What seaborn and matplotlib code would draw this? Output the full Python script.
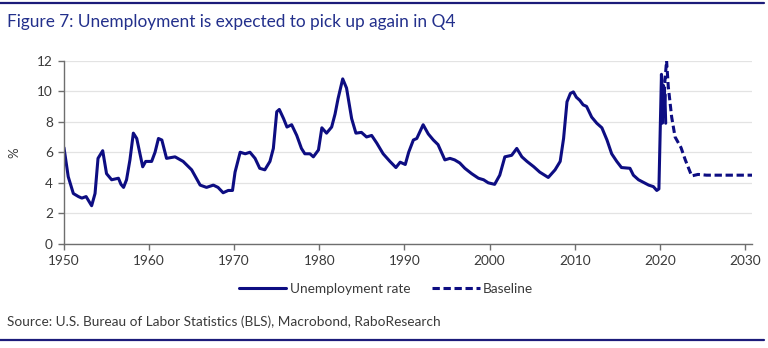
import matplotlib
matplotlib.use("Agg")
import matplotlib.pyplot as plt
import seaborn as sns
import pandas as pd

# US unemployment rate (%), observed
hist_years = [1950.0, 1950.5, 1951.1, 1951.7, 1952.1, 1952.6, 1953.25, 1953.65, 1954.0, 1954.55,
              1955.0, 1955.6, 1956.4, 1956.7, 1957.0, 1957.35, 1957.75, 1958.15, 1958.55, 1959.25,
              1959.6, 1960.3, 1960.7, 1961.1, 1961.5, 1962.05, 1963.05, 1964.0, 1965.0, 1966.0,
              1966.75, 1967.55, 1968.1, 1968.7, 1969.3, 1969.8, 1970.1, 1970.7, 1971.3, 1971.85,
              1972.45, 1973.0, 1973.6, 1974.2, 1974.6, 1975.0, 1975.3, 1975.8, 1976.2, 1976.75,
              1977.35, 1977.9, 1978.3, 1978.9, 1979.3, 1979.9, 1980.3, 1980.85, 1981.45, 1981.85,
              1982.2, 1982.75, 1983.2, 1983.8, 1984.3, 1984.95, 1985.55, 1986.15, 1986.75, 1987.5,
              1988.3, 1989.0, 1989.5, 1990.1, 1990.5, 1991.05, 1991.45, 1992.2, 1992.8, 1993.4,
              1993.95, 1994.75, 1995.35, 1995.9, 1996.5, 1997.1, 1997.9, 1998.7, 1999.3, 1999.85,
              2000.6, 2001.2, 2001.8, 2002.6, 2003.2, 2003.8, 2004.4, 2005.2, 2005.9, 2006.9,
              2007.7, 2008.3, 2008.7, 2009.1, 2009.5, 2009.85, 2010.2, 2010.6, 2011.0, 2011.4,
              2012.0, 2012.6, 2013.2, 2013.8, 2014.35, 2014.95, 2015.5, 2016.5, 2016.9, 2017.5,
              2018.3, 2018.7, 2019.25, 2019.65, 2019.9, 2020.2, 2020.3, 2020.4, 2020.5, 2020.6,
              2020.7]
hist_rate = [6.3, 4.4, 3.3, 3.1, 3.0, 3.1, 2.5, 3.3, 5.6, 6.1,
             4.6, 4.2, 4.3, 3.9, 3.7, 4.2, 5.5, 7.25, 6.9, 5.05,
             5.4, 5.4, 6.0, 6.9, 6.8, 5.6, 5.7, 5.4, 4.85, 3.85,
             3.7, 3.85, 3.7, 3.35, 3.5, 3.5, 4.7, 6.0, 5.9, 6.0,
             5.6, 4.95, 4.85, 5.4, 6.25, 8.65, 8.8, 8.2, 7.65, 7.8,
             7.1, 6.25, 5.9, 5.9, 5.7, 6.15, 7.6, 7.25, 7.65, 8.5,
             9.5, 10.8, 10.2, 8.2, 7.25, 7.3, 7.0, 7.1, 6.6, 5.9,
             5.4, 5.0, 5.35, 5.2, 6.0, 6.8, 6.9, 7.8, 7.2, 6.8,
             6.5, 5.5, 5.6, 5.5, 5.3, 4.95, 4.6, 4.3, 4.2, 4.0,
             3.9, 4.5, 5.7, 5.8, 6.25, 5.7, 5.4, 5.05, 4.7, 4.35,
             4.85, 5.4, 6.9, 9.3, 9.85, 9.95, 9.6, 9.4, 9.1, 9.0,
             8.3, 7.9, 7.6, 6.8, 5.9, 5.4, 5.0, 4.95, 4.5, 4.2,
             3.97, 3.85, 3.75, 3.5, 3.6, 11.1, 7.9, 10.4, 8.4, 9.8,
             7.9]

# Baseline forecast (%)
base_years = [2020.2, 2020.45, 2020.6, 2020.8, 2021.0, 2021.4, 2021.8, 2022.5, 2023.0, 2023.75,
              2024.5, 2025.5, 2027.0, 2029.0, 2030.9]
base_rate = [11.1, 8.3, 10.6, 12.0, 10.3, 8.3, 7.0, 6.3, 5.5, 4.45,
             4.55, 4.5, 4.5, 4.5, 4.5]

x_ticks = [1950, 1960, 1970, 1980, 1990, 2000, 2010, 2020, 2030]
y_ticks = [0, 2, 4, 6, 8, 10, 12]

navy = "#0d0d82"
title_blue = "#23308c"
axis_grey = "#6e6e6e"
text_grey = "#3a3a3a"

sns.set_style("white")
plt.rcParams["font.family"] = ["Lato", "DejaVu Sans"]

hist = pd.DataFrame({"year": hist_years, "rate": hist_rate, "series": "Unemployment rate"})
base = pd.DataFrame({"year": base_years, "rate": base_rate, "series": "Baseline"})

fig = plt.figure(figsize=(7.68, 3.48), dpi=100)
ax = fig.add_axes([0.0833, 0.299, 0.896, 0.527])

sns.lineplot(data=hist, x="year", y="rate", ax=ax, color=navy, lw=2.2,
             label="Unemployment rate", estimator=None, sort=False)
sns.lineplot(data=base, x="year", y="rate", ax=ax, color=navy, lw=2.2,
             label="Baseline", estimator=None, sort=False)
ax.lines[1].set_dashes([2.4, 1.2])

ax.set_xlim(1950, 2030.85)
ax.set_ylim(0, 12)
ax.set_xticks(x_ticks)
ax.set_yticks(y_ticks)
ax.set_xlabel("")
ax.set_ylabel("%", fontsize=9.5, color=text_grey, labelpad=12)
ax.yaxis.grid(True, color="#e3e3e3", lw=0.9)
ax.set_axisbelow(True)
for s in ["top", "right"]:
    ax.spines[s].set_visible(False)
for s in ["left", "bottom"]:
    ax.spines[s].set_color(axis_grey)
    ax.spines[s].set_linewidth(1.0)
ax.tick_params(axis="both", which="major", direction="out", length=4, width=1,
               color=axis_grey, labelsize=9.8, labelcolor=text_grey, pad=4, left=True, bottom=True)

leg = ax.legend(loc="upper center", bbox_to_anchor=(0.468, -0.145), ncol=2, frameon=False,
                fontsize=9.8, handlelength=3.5, columnspacing=1.6, handletextpad=0.25)
for t in leg.get_texts():
    t.set_color(text_grey)

fig.text(0.009, 0.937, "Figure 7: Unemployment is expected to pick up again in Q4",
         fontsize=12.4, color=title_blue, va="center", ha="left")
fig.text(0.009, 0.075, "Source: U.S. Bureau of Labor Statistics (BLS), Macrobond, RaboResearch",
         fontsize=9.8, color=text_grey, va="center", ha="left")

fig.add_artist(plt.Line2D([0.0, 0.995], [0.992, 0.992], transform=fig.transFigure, color="#1c1c7a", lw=1.6))
fig.add_artist(plt.Line2D([0.0, 0.995], [0.022, 0.022], transform=fig.transFigure, color="#1c1c7a", lw=1.6))

fig.savefig("out.png", dpi=100)
